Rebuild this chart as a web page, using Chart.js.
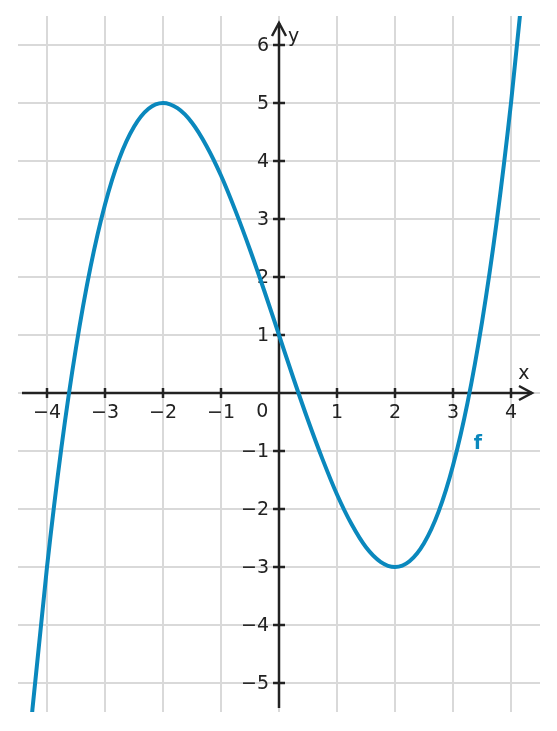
<!DOCTYPE html>
<html>
<head>
<meta charset="utf-8">
<script src="https://cdn.jsdelivr.net/npm/chart.js@4/dist/chart.umd.min.js"></script>
<style>
  html, body { margin: 0; background: #fff; }
  #wrap { width: 557px; height: 731px; }
</style>
</head>
<body>
<div id="wrap"><canvas id="c"></canvas></div>
<script>
const xs = [-4.5, -4.25, -4, -3.75, -3.5, -3.25, -3, -2.75, -2.5, -2.25, -2, -1.75, -1.5, -1.25, -1, -0.75, -0.5, -0.25,
  0, 0.25, 0.5, 0.75, 1, 1.25, 1.5, 1.75, 2, 2.25, 2.5, 2.75, 3, 3.25, 3.5, 3.75, 4, 4.25, 4.5];
const ys = [-8.28, -5.44, -3, -0.93, 0.78, 2.17, 3.25, 4.05, 4.59, 4.9, 5, 4.91, 4.66, 4.26, 3.75, 3.14, 2.47, 1.75,
  1, 0.25, -0.47, -1.14, -1.75, -2.26, -2.66, -2.91, -3, -2.9, -2.59, -2.05, -1.25, -0.17, 1.22, 2.93, 5, 7.44, 10.28];

const xTicks = [-4, -3, -2, -1, 0, 1, 2, 3, 4];
const yTicks = [-5, -4, -3, -2, -1, 0, 1, 2, 3, 4, 5, 6];
const xRange = [-4.5, 4.5];
const yRange = [-5.5, 6.5];

const ink = "#222222";
const gridColor = "#d9d9d9";
const curveColor = "#0a88bd";
const font = { family: "DejaVu Sans", size: 19 };

const fmt = (v) => (v < 0 ? "\u2212" + Math.abs(v) : String(v));

// axis lines with arrow heads, tick marks crossing the axes, y tick labels and text labels
const axesPlugin = {
  id: "axes",
  beforeDatasetsDraw(chart) {
    const { ctx, scales } = chart;
    const sx = scales.x, sy = scales.y;
    const x0 = sx.getPixelForValue(0), y0 = sy.getPixelForValue(0);
    ctx.save();
    ctx.strokeStyle = ink;
    ctx.lineWidth = 2.5;
    ctx.lineCap = "butt";
    const left = 22, right = 532;
    ctx.beginPath();
    ctx.moveTo(left, y0);
    ctx.lineTo(right, y0);
    ctx.stroke();
    const top = 23, bottom = 708;
    ctx.beginPath();
    ctx.moveTo(x0, bottom);
    ctx.lineTo(x0, top);
    ctx.stroke();
    ctx.lineJoin = "miter";
    ctx.beginPath();
    ctx.moveTo(right - 13, y0 - 7);
    ctx.lineTo(right, y0);
    ctx.lineTo(right - 13, y0 + 7);
    ctx.stroke();
    ctx.beginPath();
    ctx.moveTo(x0 - 7, top + 13);
    ctx.lineTo(x0, top);
    ctx.lineTo(x0 + 7, top + 13);
    ctx.stroke();
    xTicks.forEach((v) => {
      if (v === 0) return;
      const p = sx.getPixelForValue(v);
      ctx.beginPath();
      ctx.moveTo(p, y0 - 5);
      ctx.lineTo(p, y0 + 5);
      ctx.stroke();
    });
    yTicks.forEach((v) => {
      if (v === 0) return;
      const p = sy.getPixelForValue(v);
      ctx.beginPath();
      ctx.moveTo(x0 - 6, p);
      ctx.lineTo(x0 + 6, p);
      ctx.stroke();
    });
    // y tick labels, left of the axis
    ctx.fillStyle = ink;
    ctx.font = `${font.size}px ${font.family}`;
    ctx.textAlign = "right";
    ctx.textBaseline = "middle";
    yTicks.forEach((v) => {
      if (v === 0) return;
      ctx.fillText(fmt(v), x0 - 10, sy.getPixelForValue(v) + 1);
    });
    ctx.textAlign = "center";
    ctx.fillText("0", sx.getPixelForValue(-0.29), sy.getPixelForValue(-0.33));
    ctx.restore();
  },
  afterDatasetsDraw(chart) {
    const { ctx, scales } = chart;
    const sx = scales.x, sy = scales.y;
    ctx.save();
    ctx.textAlign = "center";
    ctx.textBaseline = "middle";
    ctx.fillStyle = ink;
    ctx.font = `${font.size}px ${font.family}`;
    ctx.fillText("x", sx.getPixelForValue(4.22), sy.getPixelForValue(0.33));
    ctx.fillText("y", sx.getPixelForValue(0.25), sy.getPixelForValue(6.13));
    ctx.fillStyle = curveColor;
    ctx.font = `bold ${font.size}px ${font.family}`;
    ctx.fillText("f", sx.getPixelForValue(3.43), sy.getPixelForValue(-0.88));
    ctx.restore();
  },
};

new Chart(document.getElementById("c"), {
  type: "line",
  data: {
    datasets: [
      {
        data: xs.map((x, i) => ({ x, y: ys[i] })),
        borderColor: curveColor,
        borderWidth: 4,
        pointRadius: 0,
        cubicInterpolationMode: "monotone",
        fill: false,
      },
    ],
  },
  options: {
    responsive: true,
    maintainAspectRatio: false,
    animation: false,
    events: [],
    layout: { padding: { left: 18, right: 17, top: 16, bottom: 19 } },
    plugins: { legend: { display: false }, tooltip: { enabled: false } },
    scales: {
      x: {
        type: "linear",
        min: xRange[0],
        max: xRange[1],
        position: { y: 0 },
        afterBuildTicks: (s) => { s.ticks = xTicks.map((value) => ({ value })); },
        grid: { color: gridColor, lineWidth: 2, drawTicks: false },
        border: { display: false },
        ticks: {
          autoSkip: false,
          maxRotation: 0,
          padding: 9,
          color: ink,
          font,
          callback: (v) => (v === 0 ? "" : fmt(v)),
        },
      },
      y: {
        type: "linear",
        min: yRange[0],
        max: yRange[1],
        position: { x: 0 },
        afterBuildTicks: (s) => { s.ticks = yTicks.map((value) => ({ value })); },
        grid: { color: gridColor, lineWidth: 2, drawTicks: false },
        border: { display: false },
        ticks: { display: false },
      },
    },
  },
  plugins: [axesPlugin],
});
</script>
</body>
</html>
